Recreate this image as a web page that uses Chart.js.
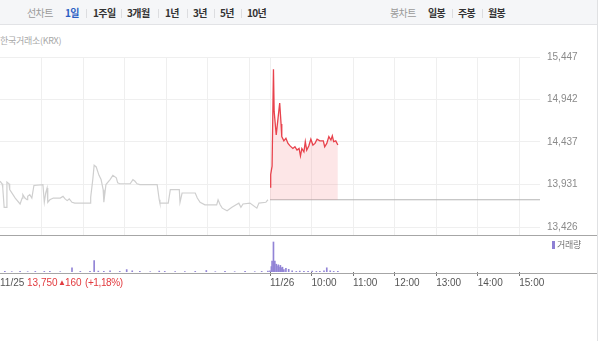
<!DOCTYPE html>
<html><head><meta charset="utf-8">
<script src="https://cdn.jsdelivr.net/npm/chart.js@4.4.1/dist/chart.umd.min.js"></script>
<style>
html,body{margin:0;padding:0;background:#fff;}
body{width:600px;height:341px;position:relative;overflow:hidden;font-family:"Liberation Sans","Noto Sans CJK KR",sans-serif;}
.abs{position:absolute;white-space:nowrap;}
#topbar{left:0;top:0;width:597px;height:24px;background:#f5f6f8;border-bottom:1px solid #e2e3e6;}
.tb{top:0;line-height:26px;font-size:10px;letter-spacing:-0.6px;font-weight:bold;color:#333;font-family:"Noto Sans CJK KR",sans-serif;}
.tb.lab{color:#9a9a9a;font-weight:normal;}
.tb.on{color:#2b5fc4;}
.sp{top:9px;width:1px;height:9px;background:#dcdde0;}
#src{left:0;top:34px;font-size:9px;letter-spacing:-0.3px;color:#a8a8a8;font-family:"Noto Sans CJK KR",sans-serif;}
#main{position:absolute;left:0;top:45px;}
#vol{position:absolute;left:0;top:236px;}
.hl{left:0;width:597px;height:1px;background:#a6a6a6;}
#rb{left:597px;top:0;width:1px;height:341px;background:#e0e1e3;}
#lgbox{left:552px;top:241px;width:3px;height:8px;background:#8e80d4;}
#lgtxt{left:557px;top:238px;font-size:9px;letter-spacing:-0.3px;color:#777;font-family:"Noto Sans CJK KR",sans-serif;}
.chg{top:277px;font-size:10px;color:#e23b3f;}
</style></head>
<body>
<div id="topbar" class="abs"></div>
<span class="abs tb lab" style="left:27px">선차트</span>
<span class="abs tb on" style="left:65px">1일</span>
<span class="abs sp" style="left:86px"></span>
<span class="abs tb" style="left:93px">1주일</span>
<span class="abs sp" style="left:121px"></span>
<span class="abs tb" style="left:127px">3개월</span>
<span class="abs sp" style="left:158px"></span>
<span class="abs tb" style="left:165px">1년</span>
<span class="abs sp" style="left:187px"></span>
<span class="abs tb" style="left:193px">3년</span>
<span class="abs sp" style="left:214px"></span>
<span class="abs tb" style="left:220px">5년</span>
<span class="abs sp" style="left:241px"></span>
<span class="abs tb" style="left:247px">10년</span>
<span class="abs tb lab" style="left:390px">봉차트</span>
<span class="abs tb" style="left:428px">일봉</span>
<span class="abs sp" style="left:452px"></span>
<span class="abs tb" style="left:458px">주봉</span>
<span class="abs sp" style="left:482px"></span>
<span class="abs tb" style="left:488px">월봉</span>
<div id="src" class="abs">한국거래소(KRX)</div>
<canvas id="main" width="600" height="190"></canvas>
<canvas id="vol" width="600" height="64"></canvas>
<div class="abs hl" style="top:235px"></div>
<div class="abs hl" style="top:273px"></div>
<div id="rb" class="abs"></div>
<div id="lgbox" class="abs"></div>
<div id="lgtxt" class="abs">거래량</div>
<span class="abs chg" style="left:27px">13,750</span>
<span class="abs chg" style="left:58px;top:278px;font-size:8px">▲</span>
<span class="abs chg" style="left:65px">160</span>
<span class="abs chg" style="left:85px;letter-spacing:-0.4px">(+1,18%)</span>
<script>
// ---- data ----
const prevClose = 13750;
const yTicks = [13426, 13931, 14437, 14942, 15447];
const yMin = 13331, yMax = 15447;
const gridMinutes = [60,120,180,240,300,360,390,450,510,570,630,690,750];
const xTickMinutes = [0,390,450,510,570,630,690,750];
const xTickLabels = ['11/25','11/26','10:00','11:00','12:00','13:00','14:00','15:00'];

// 11/25 session (minutes from 09:00 of 11/25)
const day1Minutes = [0,3,4,6,9,10,13,14,22,29,32,33,36,39,40,43,46,49,62,64,66,68,69,72,77,87,91,94,97,100,104,108,130,131,134,136,139,143,146,149,150,153,159,163,168,170,173,188,192,195,198,202,227,230,231,243,246,259,260,263,282,285,289,296,313,315,318,321,328,335,341,345,348,351,361,371,374,384,387];
const day1Prices = [13970,13940,13890,13660,13660,13960,13940,13870,13770,13700,13770,13810,13770,13750,13790,13810,13770,13920,13930,13720,13830,13890,13720,13750,13770,13770,13790,13760,13740,13760,13720,13710,13710,13780,13990,14160,14140,14040,13990,13870,13720,13930,13990,14040,14010,13950,13940,13940,13990,13970,13940,13930,13930,13750,13710,13710,13870,13870,13720,13830,13830,13770,13720,13690,13690,13750,13690,13650,13620,13660,13690,13710,13660,13700,13710,13650,13710,13720,13750];

// 11/26 session (minutes on same axis, 390 = 09:00 of 11/26)
const day2Minutes = [390,391,393,395,396,399,402,404,406,407,410,413,416,419,423,426,429,432,434,436,439,441,443,446,449,452,455,458,462,467,469,472,475,478,480,482,485,488];
const day2Prices = [13900,14050,14150,15300,14800,14520,14750,14900,14650,14500,14450,14480,14420,14390,14360,14380,14340,14360,14270,14360,14320,14440,14340,14390,14470,14400,14420,14470,14450,14450,14380,14420,14500,14460,14510,14440,14450,14400];

// volume
const volMinutes = [7,17,29,40,51,64,72,87,104,116,130,136,142,150,159,173,183,191,202,217,230,238,253,267,282,298,311,325,339,354,368,378,387,
  390,392,393,395,396,397,399,400,402,403,405,406,408,410,413,417,422,428,433,439,445,451,457,462,468,472,477,482,488];
const volValues = [2,1,2,1,2,2,2,1,14,2,2,38,3,2,4,2,8,4,2,1,3,2,1,1,2,5,1,2,1,2,1,2,3,
  4,18,36,100,30,36,26,20,24,16,22,14,16,8,12,9,4,2,3,2,2,3,2,2,4,14,4,2,2];

const FONT = '"Liberation Sans","Noto Sans CJK KR",sans-serif';

new Chart(document.getElementById('main'), {
  type: 'line',
  data: { datasets: [
    { data: day2Minutes.map((m,i)=>({x:m, y:day2Prices[i]})), borderColor:'#e8424c', borderWidth:1.3,
      pointRadius:0, tension:0, fill:{value:prevClose}, backgroundColor:'rgba(246,120,128,0.19)', order:0 },
    { data: [{x:390,y:prevClose},{x:780,y:prevClose}], borderColor:'#b4b4b4', borderWidth:1,
      pointRadius:0, fill:false, order:1 },
    { data: day1Minutes.map((m,i)=>({x:m, y:day1Prices[i]})), borderColor:'#cfcfcf', borderWidth:1.2,
      pointRadius:0, tension:0, fill:false, order:2 }
  ]},
  options: {
    responsive:false, animation:false, events:[],
    layout:{padding:{top:12,left:0,right:0,bottom:0}},
    plugins:{legend:{display:false}, tooltip:{enabled:false}},
    scales:{
      x:{type:'linear', min:0, max:780, offset:false,
        afterBuildTicks:s=>{s.ticks = gridMinutes.map(v=>({value:v}));},
        afterFit:s=>{s.height = 0; s.paddingLeft = 0; s.paddingRight = 0;},
        ticks:{display:false}, grid:{drawTicks:false, color:'#efefef'}, border:{display:false}},
      y:{position:'right', min:yMin, max:yMax,
        afterBuildTicks:s=>{s.ticks = yTicks.map(v=>({value:v}));},
        afterFit:s=>{s.width = 60; s.paddingTop = 0; s.paddingBottom = 0;},
        ticks:{padding:7, color:'#8a8a8a', font:{size:10, family:FONT}, callback:v=>Number(v).toLocaleString('en-US')},
        grid:{drawTicks:false, color:'#efefef'}, border:{display:false}}
    }
  }
});

new Chart(document.getElementById('vol'), {
  type: 'bar',
  data: { datasets: [
    { data: volMinutes.map((m,i)=>({x:m, y:volValues[i]})), backgroundColor:'#9284d6', barThickness:1 }
  ]},
  options: {
    responsive:false, animation:false, events:[],
    layout:{padding:{top:0,left:0,right:60,bottom:10}},
    plugins:{legend:{display:false}, tooltip:{enabled:false}},
    scales:{
      x:{type:'linear', min:0, max:780, offset:false,
        afterBuildTicks:s=>{s.ticks = xTickMinutes.map(v=>({value:v}));},
        afterFit:s=>{s.paddingLeft = 0; s.paddingRight = 0;},
        ticks:{autoSkip:false, maxRotation:0, align:'start', padding:1, color:'#555', font:{size:10, family:FONT},
          callback:v=>xTickLabels[xTickMinutes.indexOf(v)]},
        grid:{drawOnChartArea:false, offset:false, drawTicks:true, tickLength:4, tickWidth:1,
          tickColor:ctx=>ctx.index===0?'rgba(0,0,0,0)':'#777'},
        border:{display:false}},
      y:{display:false, min:0, max:120}
    }
  }
});
</script>
</body></html>
